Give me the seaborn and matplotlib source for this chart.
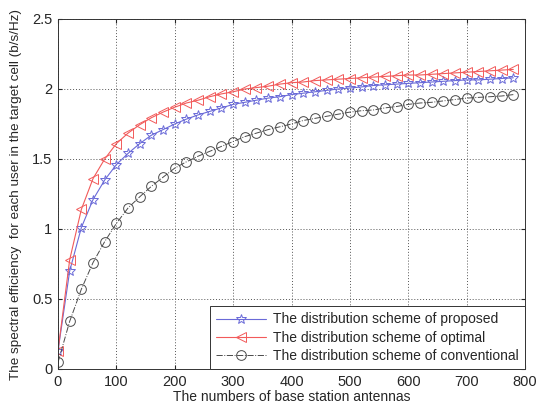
import numpy as np
import pandas as pd
import matplotlib
matplotlib.use("Agg")
import matplotlib.pyplot as plt
import seaborn as sns

antennas = list(range(0, 800, 20))
proposed = [0.13, 0.70, 1.01, 1.21, 1.35, 1.46, 1.54, 1.61, 1.67, 1.71,
            1.75, 1.785, 1.815, 1.84, 1.865, 1.89, 1.905, 1.92, 1.935, 1.945,
            1.96, 1.97, 1.98, 1.99, 2.0, 2.007, 2.015, 2.025, 2.03, 2.035,
            2.04, 2.045, 2.05, 2.055, 2.06, 2.065, 2.065, 2.07, 2.075, 2.08]
optimal = [0.13, 0.78, 1.14, 1.36, 1.50, 1.61, 1.685, 1.745, 1.795, 1.835,
           1.87, 1.90, 1.92, 1.945, 1.965, 1.98, 2.00, 2.01, 2.02, 2.035,
           2.045, 2.05, 2.06, 2.065, 2.07, 2.075, 2.08, 2.085, 2.09, 2.095,
           2.10, 2.10, 2.105, 2.11, 2.115, 2.12, 2.125, 2.13, 2.135, 2.14]
conventional = [0.047, 0.34, 0.57, 0.76, 0.91, 1.04, 1.15, 1.23, 1.305, 1.37,
                1.435, 1.48, 1.52, 1.555, 1.59, 1.625, 1.66, 1.685, 1.71, 1.73,
                1.75, 1.775, 1.79, 1.805, 1.82, 1.835, 1.845, 1.85, 1.865, 1.875,
                1.89, 1.90, 1.905, 1.915, 1.925, 1.935, 1.94, 1.945, 1.95, 1.96]

labels = ["The distribution scheme of proposed",
          "The distribution scheme of optimal",
          "The distribution scheme of conventional"]
x_ticks = [0, 100, 200, 300, 400, 500, 600, 700, 800]
y_ticks = [0, 0.5, 1, 1.5, 2, 2.5]

sns.set_style("white")
plt.rcParams['font.family'] = ['Liberation Sans', 'DejaVu Sans']

fig = plt.figure(figsize=(5.37, 4.08), dpi=100)
ax = fig.add_axes([58/537, 1-369/408, (525-58)/537, (369-19)/408])

styles = [
    dict(color="#6a6ad8", marker="*", markersize=7.5, linestyle="-", lw=0.8),
    dict(color="#f25a5a", marker="<", markersize=7.5, linestyle="-", lw=0.8),
    dict(color="#4a4a4a", marker="o", markersize=7, linestyle="-.", lw=0.7),
]
for vals, lab, st in zip([proposed, optimal, conventional], labels, styles):
    df = pd.DataFrame({"x": antennas, "y": vals})
    sns.lineplot(data=df, x="x", y="y", ax=ax, label=lab,
                 color=st["color"], marker=st["marker"], markersize=st["markersize"],
                 markerfacecolor="none", markeredgecolor=st["color"],
                 markeredgewidth=0.7, linestyle=st["linestyle"], linewidth=st["lw"])

ax.set_xlim(0, 800)
ax.set_ylim(0, 2.5)
ax.set_xticks(x_ticks)
ax.set_yticks(y_ticks)
ax.set_xticklabels([str(t) for t in x_ticks])
ax.set_yticklabels(["0", "0.5", "1", "1.5", "2", "2.5"])
ax.grid(True, linestyle=(0, (1, 2)), color="#555555", linewidth=0.7)
ax.tick_params(direction="in", labelsize=10.5, length=3, top=True, right=True,
               bottom=True, left=True, pad=4)
for s in ax.spines.values():
    s.set_color("#333333")
    s.set_linewidth(0.7)
ax.set_xlabel("The numbers of base station antennas", fontsize=10, labelpad=1)
ax.set_ylabel("The spectral efficiency  for each user in the target cell (b/s/Hz)",
              fontsize=9.7, labelpad=7)
leg = ax.legend(loc="lower right", borderaxespad=0, fontsize=10, fancybox=False,
                edgecolor="#333333", framealpha=1, handlelength=3.6,
                handletextpad=0.5, borderpad=0.45, labelspacing=0.3)
leg.get_frame().set_linewidth(0.7)

fig.savefig("out.png", dpi=100)
